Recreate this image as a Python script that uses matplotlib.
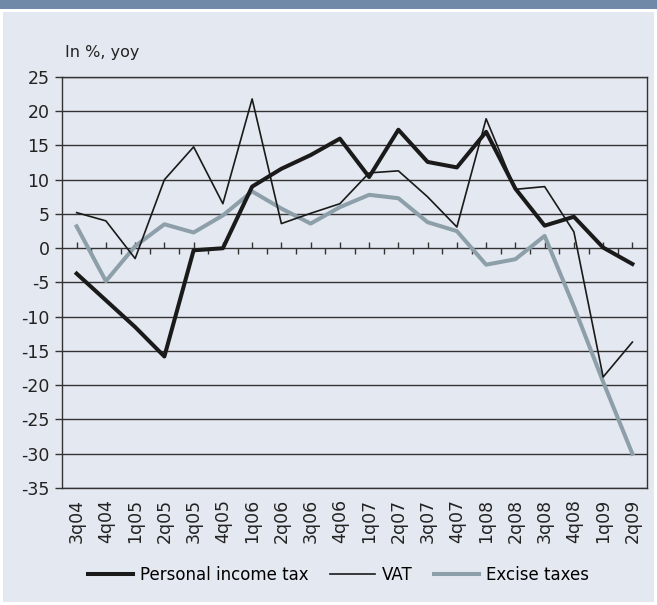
import matplotlib
matplotlib.use("Agg")
import matplotlib.pyplot as plt
from matplotlib.patches import Rectangle

plt.rcParams["axes.unicode_minus"] = False

quarters = ["3q04", "4q04", "1q05", "2q05", "3q05", "4q05", "1q06", "2q06", "3q06", "4q06",
            "1q07", "2q07", "3q07", "4q07", "1q08", "2q08", "3q08", "4q08", "1q09", "2q09"]
personal_income_tax = [-3.7, -7.6, -11.5, -15.8, -0.3, 0.0, 9.0, 11.6, 13.6, 16.0,
                       10.4, 17.3, 12.6, 11.8, 17.0, 8.7, 3.3, 4.6, 0.1, -2.3]
vat = [5.2, 4.0, -1.5, 10.0, 14.8, 6.5, 21.8, 3.6, 5.1, 6.5,
       11.0, 11.3, 7.5, 3.1, 18.9, 8.6, 9.0, 2.4, -18.8, -13.7]
excise_taxes = [3.2, -4.8, 0.3, 3.5, 2.3, 4.8, 8.3, 5.8, 3.6, 6.0,
                7.8, 7.3, 3.8, 2.5, -2.4, -1.6, 1.8, -8.5, -19.5, -30.0]

bg = "#e4e8f0"
grey = "#8d9fa9"

fig = plt.figure(figsize=(6.57, 6.05), dpi=100)
fig.patch.set_facecolor("white")
fig.patches.append(Rectangle((0.004, 0.005), 0.992, 0.975, transform=fig.transFigure,
                             facecolor=bg, edgecolor="none", zorder=-10))
fig.patches.append(Rectangle((0, 0.985), 1, 0.015, transform=fig.transFigure,
                             facecolor="#7189a9", edgecolor="none", zorder=-10))

ax = fig.add_axes([62 / 657, 1 - 488 / 605, 585 / 657, 411 / 605])
ax.set_facecolor(bg)
x = range(len(quarters))

ax.plot(x, personal_income_tax, color="#1a1a1a", lw=2.9, label="Personal income tax", zorder=4)
ax.plot(x, vat, color="#1a1a1a", lw=1.2, label="VAT", zorder=5)
ax.plot(x, excise_taxes, color=grey, lw=2.9, label="Excise taxes", zorder=3)

ax.set_xlim(-0.5, len(quarters) - 0.5)
ax.set_ylim(-35, 25)
ax.set_yticks(range(-35, 26, 5))
ax.yaxis.grid(True, color="#333333", lw=1.0)
ax.set_axisbelow(True)
for s in ax.spines.values():
    s.set_color("#333333")
    s.set_linewidth(1.0)

ax.set_xticks(list(x))
ax.set_xticklabels(quarters, rotation=90)
ax.tick_params(axis="x", length=0, pad=8, labelsize=12.5, colors="#222222")
ax.tick_params(axis="y", length=5, width=1, color="#333333", pad=4, labelsize=12.5, labelcolor="#222222")

# tick marks along the zero line
sec = ax.secondary_xaxis(35 / 60)
for s in sec.spines.values():
    s.set_visible(False)
sec.xaxis.set_ticks_position("bottom")
sec.set_xticks(list(x))
sec.set_xticks([i + 0.5 for i in x][:-1], minor=True)
sec.set_xticklabels([])
sec.tick_params(which="both", labelbottom=False, labeltop=False)
sec.tick_params(which="major", direction="in", length=4, width=1, color="#333333")
sec.tick_params(which="minor", direction="out", length=4, width=1, color="#333333")

fig.text(65 / 657, 1 - 53 / 605, "In %, yoy", fontsize=11.5, color="#222222", va="center")

fig.legend(loc="center", bbox_to_anchor=(0.515, 1 - 575 / 605), ncol=3, frameon=False,
           fontsize=12, handlelength=2.7, columnspacing=1.3, handletextpad=0.4)

fig.savefig("out.png", dpi=100, facecolor=fig.get_facecolor())
